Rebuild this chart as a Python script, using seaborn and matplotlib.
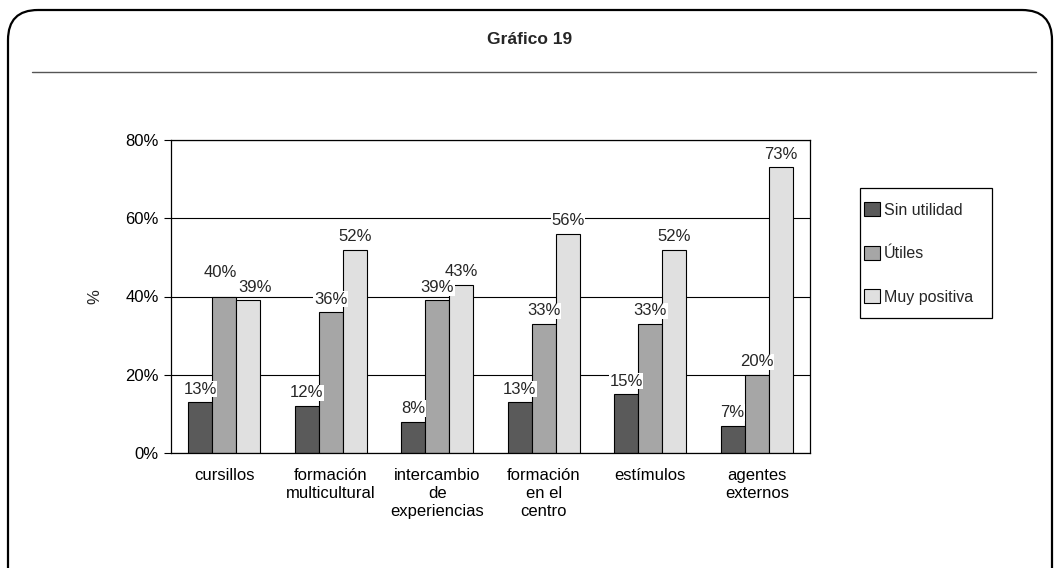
import numpy as np
import pandas as pd
import matplotlib
matplotlib.use("Agg")
import matplotlib.pyplot as plt
import seaborn as sns
from matplotlib.patches import FancyBboxPatch, Patch, Rectangle
from matplotlib.lines import Line2D
from matplotlib import transforms
from matplotlib.ticker import FixedLocator, FuncFormatter

# Data
categories = [
    "cursillos",
    "formación\nmulticultural",
    "intercambio\nde\nexperiencias",
    "formación\nen el\ncentro",
    "estímulos",
    "agentes\nexternos",
]
series = ["Sin utilidad", "Útiles", "Muy positiva"]
sin_utilidad = [13, 12, 8, 13, 15, 7]
utiles = [40, 36, 39, 33, 33, 20]
muy_positiva = [39, 52, 43, 56, 52, 73]
y_ticks = [0, 20, 40, 60, 80]
colors = ["#5a5a5a", "#a6a6a6", "#e0e0e0"]

sns.set_theme(style="white")
plt.rcParams["font.family"] = ["Liberation Sans", "DejaVu Sans"]

df = pd.DataFrame({
    "categoria": categories * 3,
    "serie": np.repeat(series, len(categories)),
    "valor": sin_utilidad + utiles + muy_positiva,
})

W, H = 1060, 568
fig = plt.figure(figsize=(W / 100, H / 100), dpi=100)
fig.patch.set_facecolor("white")

# Pixel coordinates with origin at the top-left corner
px = transforms.Affine2D().scale(1, -1).translate(0, H)

frame = FancyBboxPatch((8, 10), 1044, 590, boxstyle="round,pad=0,rounding_size=30",
                       transform=px, fill=False, edgecolor="black", linewidth=1.6)
fig.patches.append(frame)

fig.text(0.5, 1 - 40 / H, "Gráfico 19", ha="center", va="center",
         fontsize=12.5, fontweight="bold")
fig.lines.append(Line2D([32 / W, 1036 / W], [1 - 72 / H, 1 - 72 / H],
                        transform=fig.transFigure, color="#555555", linewidth=1))

ax = fig.add_axes([171 / W, 1 - 453 / H, (810 - 171) / W, (453 - 140) / H])
sns.barplot(data=df, x="categoria", y="valor", hue="serie", order=categories,
            hue_order=series, palette=colors, width=0.68, gap=0, saturation=1,
            edgecolor="black", linewidth=0.8, errorbar=None, legend=False, ax=ax)

ax.set_xlim(-0.5, len(categories) - 0.5)
ax.set_ylim(0, 80)
ax.set_yticks(y_ticks)
ax.yaxis.set_major_formatter(FuncFormatter(lambda v, p: f"{v:.0f}%"))
ax.yaxis.grid(True, color="black", linewidth=0.8)
ax.set_axisbelow(True)
for s in ax.spines.values():
    s.set_visible(True)
    s.set_color("black")
    s.set_linewidth(0.9)

ax.set_xlabel("")
ax.set_ylabel("")
ax.xaxis.set_minor_locator(FixedLocator(np.arange(-0.5, len(categories), 1.0)))
ax.tick_params(axis="x", which="major", length=0, pad=11, labelsize=12, colors="black")
ax.tick_params(axis="x", which="minor", length=8, width=0.8, color="black", direction="out")
ax.tick_params(axis="y", length=5, width=0.8, color="black", direction="out",
               labelsize=12, pad=4, labelcolor="black", left=True)
for t in ax.get_xticklabels():
    t.set_linespacing(1.22)

fig.text(95 / W, 1 - 297 / H, "%", rotation=90, ha="center", va="center", fontsize=12)

for i, cont in enumerate(ax.containers):
    texts = ax.bar_label(cont, fmt="{:.0f}%", padding=4, fontsize=12,
                         bbox=dict(facecolor="white", edgecolor="none", pad=0.5))
    if i == 1:
        # lift the first "Útiles" label clear of its neighbour
        texts[0].xyann = (-3, texts[0].xyann[1] + 8)
    if i == 2:
        texts[0].xyann = (5, texts[0].xyann[1])

# Legend: boxed, with entries spread over the box height
fig.patches.append(Rectangle((860, 188), 132, 130, transform=px, fill=False,
                             edgecolor="black", linewidth=0.9))
handles = [Patch(facecolor=c, edgecolor="black", linewidth=0.8) for c in colors]
fig.legend(handles, series, loc="upper left", bbox_to_anchor=(864 / W, 1 - 202 / H),
           bbox_transform=fig.transFigure, frameon=False, borderaxespad=0,
           borderpad=0, fontsize=11.5, handlelength=1.0, handleheight=1.0,
           handletextpad=0.25, labelspacing=1.75)

fig.savefig("out.png", dpi=100, facecolor="white")
